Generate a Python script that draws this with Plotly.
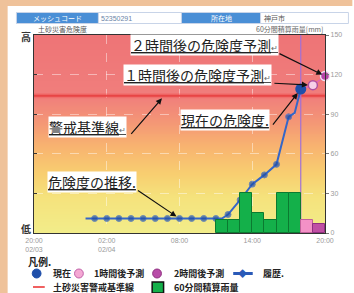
import base64, struct, zlib
import plotly.graph_objects as go

# ---------------- data ----------------
x_start = "2014-02-03 20:00"
x_end = "2014-02-04 20:00"
x_tick_vals = ["2014-02-03 20:00", "2014-02-04 02:00", "2014-02-04 08:00",
               "2014-02-04 14:00", "2014-02-04 20:00"]
x_tick_text = ["20:00<br>02/03", "02:00<br>02/04", "08:00", "14:00", "20:00"]

hist_hhmm = ["00:15", "01:00", "02:00", "03:00", "04:00", "05:00", "06:00", "07:00",
             "08:00", "09:00", "10:00", "11:00", "11:30", "12:00", "13:00", "14:00",
             "15:00", "16:00", "17:00", "17:30", "18:00"]
hist_value = [11, 11, 11, 11, 11, 11, 11, 11, 11, 11, 11, 11, 11, 14, 25, 37,
              44, 52, 88, 91, 109]

now_time = "2014-02-04 18:00"
now_value = 109
pred1_time = "2014-02-04 19:00"
pred1_value = 112
pred2_time = "2014-02-04 20:00"
pred2_value = 119
warning_level = 104

rain_hhmm = ["11:00", "12:00", "13:00", "14:00", "15:00", "16:00", "17:00"]
rain_mm = [10, 10, 30, 15, 10, 30, 30]
rain_pred1_time = "2014-02-04 18:00"
rain_pred1_mm = 10
rain_pred2_time = "2014-02-04 19:00"
rain_pred2_mm = 7

y_tick_vals = [0, 30, 60, 90, 120, 150]
left_label_high = "高"
left_label_low = "低"
right_tick_text = ["0", "30", "60", "90", "120", "150"]

hist_time = ["2014-02-04 " + t for t in hist_hhmm]
rain_time = ["2014-02-04 " + t for t in rain_hhmm]
HOUR_MS = 3600000

FONT = "Noto Sans CJK JP"
NUMFONT = "Liberation Sans"

# ---------------- background gradient image ----------------
grad_stops = [(0, (242, 237, 138)), (28, (245, 226, 124)), (45, (248, 206, 112)),
              (65, (248, 180, 112)), (85, (244, 150, 118)), (104, (240, 126, 124)),
              (150, (238, 116, 118))]

def color_at(v):
    for (v0, c0), (v1, c1) in zip(grad_stops[:-1], grad_stops[1:]):
        if v0 <= v <= v1:
            t = (v - v0) / (v1 - v0)
            return tuple(int(round(a + (b - a) * t)) for a, b in zip(c0, c1))
    return grad_stops[-1][1]

H, W = 200, 4
raw = b""
for r in range(H):
    v = 150 - (r + 0.5) * 150 / H
    raw += b"\x00" + bytes(color_at(v)) * W

def chunk(t, d):
    return struct.pack(">I", len(d)) + t + d + struct.pack(">I", zlib.crc32(t + d) & 0xffffffff)

png = (b"\x89PNG\r\n\x1a\n" + chunk(b"IHDR", struct.pack(">IIBBBBB", W, H, 8, 2, 0, 0, 0))
       + chunk(b"IDAT", zlib.compress(raw)) + chunk(b"IEND", b""))
grad_src = "data:image/png;base64," + base64.b64encode(png).decode()

# ---------------- figure ----------------
fig = go.Figure()

fig.add_trace(go.Bar(x=rain_time, y=rain_mm, width=HOUR_MS, offset=0, yaxis="y2",
                     marker=dict(color="#14b04a", line=dict(color="#0b7a30", width=1)),
                     showlegend=False))
fig.add_trace(go.Bar(x=[rain_pred1_time], y=[rain_pred1_mm], width=HOUR_MS, offset=0, yaxis="y2",
                     marker=dict(color="#f391c6", line=dict(color="#c0609a", width=1)),
                     showlegend=False))
fig.add_trace(go.Bar(x=[rain_pred2_time], y=[rain_pred2_mm], width=HOUR_MS, offset=0, yaxis="y2",
                     marker=dict(color="#c04fa4", line=dict(color="#903080", width=1)),
                     showlegend=False))

# warning line
fig.add_trace(go.Scatter(x=[x_start, x_end], y=[warning_level] * 2, mode="lines",
                         line=dict(color="rgba(240,80,80,0.35)", width=5), showlegend=False))
fig.add_trace(go.Scatter(x=[x_start, x_end], y=[warning_level] * 2, mode="lines",
                         line=dict(color="#e84545", width=2), showlegend=False))

# now vertical line
fig.add_trace(go.Scatter(x=[now_time, now_time], y=[0, 150], mode="lines",
                         line=dict(color="#a070d8", width=1.2), showlegend=False))

# prediction line
fig.add_trace(go.Scatter(x=[now_time, pred1_time, pred2_time],
                         y=[now_value, pred1_value, pred2_value], mode="lines",
                         line=dict(color="#e060c0", width=1.2), showlegend=False,
                         cliponaxis=False))

# history
marker_sizes = [6 if t.endswith(":00") else 0 for t in hist_hhmm]
fig.add_trace(go.Scatter(x=hist_time, y=hist_value, mode="lines+markers",
                         line=dict(color="#3566c8", width=2),
                         marker=dict(color="#1f4faa", size=marker_sizes, symbol="circle"),
                         showlegend=False))
# current and predictions
fig.add_trace(go.Scatter(x=[now_time], y=[now_value], mode="markers",
                         marker=dict(color="#1f4faa", size=11), showlegend=False))
fig.add_trace(go.Scatter(x=[pred1_time], y=[pred1_value], mode="markers",
                         marker=dict(color="#f7d0e8", size=9, line=dict(color="#b050a0", width=1.5)),
                         showlegend=False, cliponaxis=False))
fig.add_trace(go.Scatter(x=[pred2_time], y=[pred2_value], mode="markers",
                         marker=dict(color="#b844a8", size=9, line=dict(color="#f0e0f0", width=1.5)),
                         showlegend=False, cliponaxis=False))

# ---------------- helpers ----------------
L, R, T, B = 34, 22, 35, 60
FW, FH = 354, 293
PW, PH = FW - L - R, FH - T - B

def px(xp):
    return (xp - L) / PW

def py(yp):
    return (FH - B - yp) / PH

annotations = []
shapes = []

def text_at(x, y, s, size=7, color="#444", xanchor="left", bold=False, bg=None, pad=0,
            family=FONT):
    a = dict(xref="paper", yref="paper", x=px(x), y=py(y), text=s, showarrow=False,
             xanchor=xanchor, yanchor="middle",
             font=dict(family=family, size=size, color=color, weight=700 if bold else 400))
    if bg:
        a["bgcolor"] = bg
        a["borderpad"] = pad
    annotations.append(a)

def rect(x0, y0, x1, y1, fill, line="rgba(0,0,0,0)", lw=1):
    shapes.append(dict(type="rect", xref="paper", yref="paper", x0=px(x0), x1=px(x1),
                       y0=py(y1), y1=py(y0), fillcolor=fill, line=dict(color=line, width=lw),
                       layer="above"))

def circle(cx, cy, r, fill, line):
    shapes.append(dict(type="circle", xref="paper", yref="paper", x0=px(cx - r), x1=px(cx + r),
                       y0=py(cy + r), y1=py(cy - r), fillcolor=fill,
                       line=dict(color=line, width=1), layer="above"))

# page frame
PEACH = "#efc29a"
rect(-5, -5, 360, 6, PEACH)
rect(-5, -5, 7, 300, PEACH)

# header
BLUE = "#4a8fd6"
rect(16, 12.5, 100, 23.5, BLUE, "#c8d4e8")
rect(100, 12.5, 185, 23.5, "white", "#c8d4e8")
rect(185, 12.5, 266, 23.5, BLUE, "#c8d4e8")
rect(266, 12.5, 356, 23.5, "white", "#c8d4e8")
text_at(58, 18, "メッシュコード", size=7, color="white", xanchor="center")
text_at(101, 18, "52350291", size=7, color="#6a84a8", family=NUMFONT)
text_at(225.5, 18, "所在地", size=7, color="white", xanchor="center")
text_at(267, 18, "神戸市", size=7, color="#555")
text_at(36, 29, "土砂災害危険度", size=7, color="#555")
text_at(332, 29, "60分間積算雨量[mm]", size=7, color="#666", xanchor="right")

# left axis labels (high / low)
text_at(26, 37, left_label_high, size=10, color="#333", xanchor="center", bold=True)
text_at(26, 228, left_label_low, size=10, color="#333", xanchor="center", bold=True)

# callout boxes
CALL = 14
small_ret = "<span style='font-size:8px;color:#666'>↵</span>"
text_at(209, 45, "<u>２時間後の危険度予測" + small_ret + "</u>", size=CALL, color="#222",
        xanchor="center", bg="white", pad=0)
text_at(201.5, 75, "<u>１時間後の危険度予測" + small_ret + "</u>", size=CALL, color="#222",
        xanchor="center", bg="white", pad=0)
text_at(89, 127.5, "<u>警戒基準線" + small_ret + "</u>", size=CALL, color="#222",
        xanchor="center", bg="white", pad=0)
text_at(230, 120, "<u>現在の危険度.</u>", size=CALL, color="#222",
        xanchor="center", bg="white", pad=0)
text_at(93.5, 181.5, "<u>危険度の推移.</u>", size=CALL, color="#222",
        xanchor="center", bg="white", pad=0)

def arrow(x, y, ax, ay, standoff=0, yref="y"):
    annotations.append(dict(x=x, y=y, xref="x", yref=yref, ax=ax, ay=ay, text="",
                            showarrow=True, arrowhead=2, arrowsize=1, arrowwidth=1.2,
                            arrowcolor="#111", standoff=standoff))

arrow(pred2_time, pred2_value, -47, -23, standoff=3)
arrow(pred1_time, pred1_value, -40, -2, standoff=5)
arrow("2014-02-04 06:33", warning_level - 2, -32, 37)
arrow(now_time, now_value, -29, 37, standoff=5)
arrow("2014-02-04 07:45", 12.5, -40, -27)

# legend
LEG = 9
ROW1, ROW2 = 273.5, 287
text_at(26, 261.5, "凡例.", size=10, color="#222", bold=True)
circle(36.7, ROW1, 4.5, "#1f4faa", "#1f4faa")
text_at(51.7, ROW1, "現在", size=LEG, color="#222", bold=True)
circle(80, ROW1, 4.5, "#f4a8d4", "#c060a8")
text_at(93.3, ROW1, "1時間後予測", size=LEG, color="#222", bold=True)
circle(160, ROW1, 4.5, "#b84ca8", "#903080")
text_at(175, ROW1, "2時間後予測", size=LEG, color="#222", bold=True)
shapes.append(dict(type="line", xref="paper", yref="paper", x0=px(238), x1=px(258),
                   y0=py(ROW1), y1=py(ROW1), line=dict(color="#2a5ab8", width=3), layer="above"))
text_at(248, ROW1, "◆", size=LEG, color="#2a5ab8", xanchor="center")
text_at(266.7, ROW1, "履歴.", size=LEG, color="#222", bold=True)
shapes.append(dict(type="line", xref="paper", yref="paper", x0=px(33), x1=px(45),
                   y0=py(ROW2), y1=py(ROW2), line=dict(color="#f06060", width=2), layer="above"))
text_at(51.7, ROW2, "土砂災害警戒基準線", size=LEG, color="#222", bold=True)
rect(155, ROW2 - 5, 166.7, ROW2 + 6, "#14b04a", "#111", 1.5)
text_at(175, ROW2, "60分間積算雨量", size=LEG, color="#222", bold=True)

GRID = "rgba(255,255,255,0.45)"
fig.update_layout(
    width=FW, height=FH,
    margin=dict(l=L, r=R, t=T, b=B, pad=0),
    paper_bgcolor="white", plot_bgcolor="#f4e88a",
    font=dict(family=FONT),
    barmode="overlay", bargap=0,
    showlegend=False,
    images=[dict(source=grad_src, xref="paper", yref="paper", x=0, y=1, sizex=1, sizey=1,
                 sizing="stretch", xanchor="left", yanchor="top", layer="below")],
    xaxis=dict(type="date", range=[x_start, x_end], tickvals=x_tick_vals, ticktext=x_tick_text,
               tickfont=dict(size=7, color="#9a9a9a", family=NUMFONT), showgrid=True,
               gridcolor=GRID, griddash="dash", showline=True, linecolor="#333", linewidth=1.2,
               mirror=True, ticks="", zeroline=False, fixedrange=True),
    yaxis=dict(range=[0, 150], tickvals=y_tick_vals, showticklabels=False,
               ticks="inside", ticklen=3,
               tickcolor="#333", showgrid=True, gridcolor=GRID, griddash="dash",
               showline=True, linecolor="#333", linewidth=1.2, zeroline=False),
    yaxis2=dict(range=[0, 150], overlaying="y", side="right", tickvals=y_tick_vals,
                ticktext=right_tick_text, tickfont=dict(size=7, color="#9a9a9a", family=NUMFONT),
                ticks="outside", ticklen=3, tickcolor="#777", showgrid=False,
                showline=True, linecolor="#333", linewidth=1.2, zeroline=False),
    annotations=annotations,
    shapes=shapes,
)

fig.write_html("out.html", config=dict(displayModeBar=False),
               post_script="document.body.style.margin='0';document.body.style.overflow='hidden';")
